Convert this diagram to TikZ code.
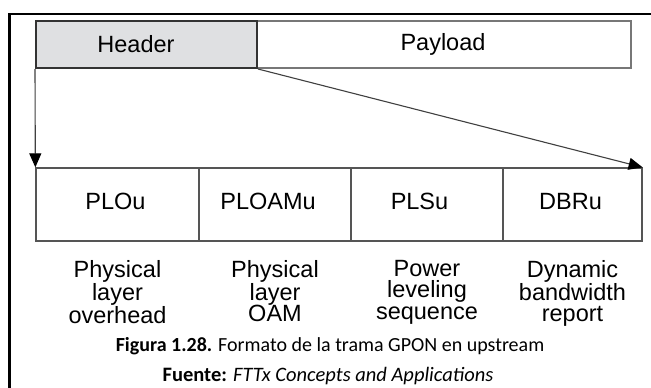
\documentclass[tikz,border=0pt]{standalone}
\usepackage{fontspec}
\setmainfont{Liberation Sans}
\newfontfamily\capfont{Carlito}
\usetikzlibrary{arrows.meta}
\definecolor{hdrfill}{HTML}{DFE0E2}
\definecolor{boxline}{HTML}{555555}
\begin{document}
\begin{tikzpicture}[x=1pt,y=-1pt,
  field/.style={draw=boxline,line width=1.3pt,minimum height=73pt,inner sep=0pt},
  topfield/.style={inner sep=0pt,minimum height=47pt},
  fieldlabel/.style={inner sep=0pt,font=\fontsize{23.5}{23}\selectfont},
  desc/.style={align=center,font=\fontsize{23.5}{21.5}\selectfont,inner sep=0pt,anchor=north},
  conn/.style={draw=black!75,line width=1.1pt,-{Triangle[length=14pt,width=12pt,fill=black,color=black]}},
  captext/.style={font=\capfont\fontsize{20}{20}\selectfont,inner sep=0pt}]
\useasboundingbox (0,0) rectangle (651,388);
\fill[white] (0,0) rectangle (651,388);
% outer frame
\draw[line width=2.5pt,line cap=rect] (9.5,388) -- (9.5,14) -- (651,14);
% top frame
\node[topfield,draw=boxline!80,line width=1.5pt,minimum width=374pt] (pay) at (444,44.5) {};
\node[topfield,fill=hdrfill,draw=black!80,line width=2pt,minimum width=221pt] (hdr) at (146.5,44.5) {};
\node[fieldlabel] (hdrt) at (136,44.5) {Header};
\node[fieldlabel] (payt) at (443,44.5) {Payload};
% lower fields
\node[field,minimum width=163pt] (f1) at (117.5,204.5) {};
\node[field,minimum width=152pt] (f2) at (275,204.5) {};
\node[field,minimum width=152pt] (f3) at (427,204.5) {};
\node[field,minimum width=139pt] (f4) at (572.5,204.5) {};
\node[fieldlabel] (t1) at (115.5,201.5) {PLOu};
\node[fieldlabel] (t2) at (268,201.5) {PLOAMu};
\node[fieldlabel] (t3) at (419.5,201.5) {PLSu};
\node[fieldlabel] (t4) at (570.5,201.5) {DBRu};
% connectors
\draw[conn] (hdr.south west) -- (f1.north west);
\draw[conn] (hdr.south east) -- (f4.north east);
% descriptions
\node[desc] (d1) at (117.5,260) {Physical\\layer\\overhead};
\node[desc] (d2) at (275,260) {Physical\\layer\\OAM};
\node[desc] (d3) at (427,260) {Power\\leveling\\sequence};
\node[desc] (d4) at (572.5,260) {Dynamic\\bandwidth\\report};
% caption
\node[captext] (c1) at (330,346) {\textbf{Figura 1.28.} Formato de la trama GPON en upstream};
\node[captext,font=\capfont\fontsize{20.5}{20}\selectfont] (c2) at (328,376) {\textbf{Fuente:} \textit{FTTx Concepts and Applications}};
\end{tikzpicture}
\end{document}
